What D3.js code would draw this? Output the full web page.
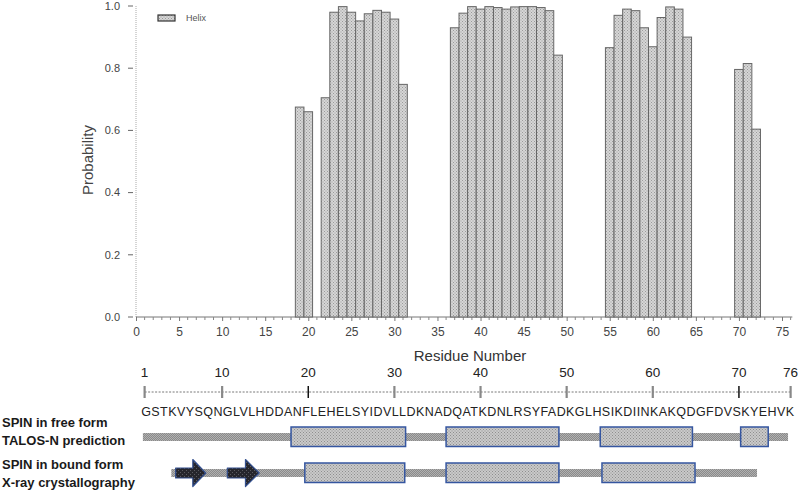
<!DOCTYPE html>
<html>
<head>
<meta charset="utf-8">
<script src="https://cdn.jsdelivr.net/npm/d3@7"></script>
<style>
  html, body { margin: 0; padding: 0; background: #fff; }
  svg { display: block; font-family: "Liberation Sans", Arial, sans-serif; }
</style>
</head>
<body>
<svg id="chart" width="800" height="491"></svg>
<script>
// ---- Data ----
const helixResidues = [19, 20, 22, 23, 24, 25, 26, 27, 28, 29, 30, 31,
  37, 38, 39, 40, 41, 42, 43, 44, 45, 46, 47, 48, 49,
  55, 56, 57, 58, 59, 60, 61, 62, 63, 64,
  70, 71, 72];
const helixProb = [0.675, 0.66, 0.705, 0.98, 0.998, 0.98, 0.952, 0.975, 0.986, 0.98, 0.958, 0.748,
  0.93, 0.977, 0.998, 0.99, 0.998, 0.995, 0.99, 0.997, 0.998, 0.998, 0.995, 0.985, 0.842,
  0.866, 0.97, 0.99, 0.985, 0.93, 0.869, 0.963, 0.997, 0.99, 0.90,
  0.796, 0.815, 0.604];
const xTicks = [0, 5, 10, 15, 20, 25, 30, 35, 40, 45, 50, 55, 60, 65, 70, 75];
const yTicks = [0, 0.2, 0.4, 0.6, 0.8, 1.0];
const sequence = "GSTKVYSQNGLVLHDDANFLEHELSYIDVLLDKNADQATKDNLRSYFADKGLHSIKDIINKAKQDGFDVSKYEHVK";
const rulerTicks = [1, 10, 20, 30, 40, 50, 60, 70, 76];
const rulerDark = [20, 70];
// secondary structure segments, in residue coordinates
const freeRod = [[0.8, 75.7]];
const freeHelices = [[18.0, 31.3], [36.0, 49.1], [53.9, 64.6], [70.2, 73.4]];
const boundRod = [[4.1, 72.1]];
const boundHelices = [[19.6, 31.2], [36.0, 49.1], [54.1, 64.9]];
const boundStrands = [[4.6, 8.1], [10.6, 14.3]];
const rowLabels = [["SPIN in free form", "TALOS-N prediction"], ["SPIN in bound form", "X-ray crystallography"]];

// ---- Setup ----
const svg = d3.select("#chart");
const x = d3.scaleLinear().domain([0, 75]).range([136, 782]);
const y = d3.scaleLinear().domain([0, 1]).range([317, 6]);

const defs = svg.append("defs");
function dotPattern(id, bg, dot, size) {
  const p = defs.append("pattern").attr("id", id).attr("patternUnits", "userSpaceOnUse")
    .attr("width", size).attr("height", size);
  p.append("rect").attr("width", size).attr("height", size).attr("fill", bg);
  p.append("rect").attr("width", 1).attr("height", 1).attr("fill", dot);
  p.append("rect").attr("x", size / 2).attr("y", size / 2).attr("width", 1).attr("height", 1).attr("fill", dot);
}
dotPattern("barFill", "#d6d6d6", "#9a9a9a", 3);
dotPattern("boxFill", "#c9c9c9", "#8e8e8e", 3);
dotPattern("rodFill", "#8a8a8a", "#b0b0b0", 2);
dotPattern("arrowFill", "#26262c", "#5a5a60", 4);

// ---- Y axis ----
svg.append("line").attr("x1", x(0)).attr("x2", x(0)).attr("y1", y(1)).attr("y2", y(0))
  .attr("stroke", "#aaa").attr("stroke-dasharray", "1,1");
const yt = svg.append("g");
yt.selectAll("line").data(yTicks).join("line")
  .attr("x1", 128).attr("x2", 133).attr("y1", d => y(d)).attr("y2", d => y(d))
  .attr("stroke", "#666");
yt.selectAll("text").data(yTicks).join("text")
  .attr("x", 120).attr("y", d => y(d)).attr("dy", "0.35em")
  .attr("text-anchor", "end").attr("font-size", 11).attr("fill", "#444")
  .text(d => d3.format(".1f")(d));
svg.append("text").attr("transform", "translate(87,160) rotate(-90)")
  .attr("text-anchor", "middle").attr("dominant-baseline", "central")
  .attr("font-size", 15).attr("fill", "#444").text("Probability");

// ---- X axis ----
const xAxis = d3.axisBottom(x).tickValues(xTicks).tickSize(4).tickPadding(6).tickFormat(d3.format("d"));
const gx = svg.append("g").attr("transform", `translate(0,${y(0)})`).call(xAxis);
gx.select(".domain").attr("stroke", "#777").attr("d", `M${x(0)},0H${x(76.2)}`);
gx.selectAll(".tick line").attr("stroke", "#777");
gx.selectAll(".tick text").attr("font-size", 12).attr("fill", "#444")
  .attr("font-family", "Liberation Sans, Arial, sans-serif");
const minor = d3.range(0, 77).filter(d => d % 5 !== 0);
svg.append("g").selectAll("line").data(minor).join("line")
  .attr("x1", d => x(d)).attr("x2", d => x(d)).attr("y1", y(0)).attr("y2", y(0) + 3)
  .attr("stroke", "#888");
svg.append("text").attr("x", 470).attr("y", 361).attr("text-anchor", "middle")
  .attr("font-size", 15).attr("fill", "#333").text("Residue Number");

// ---- Bars ----
svg.append("g").selectAll("rect").data(helixResidues).join("rect")
  .attr("x", d => x(d - 0.5)).attr("width", d => x(d + 0.5) - x(d - 0.5))
  .attr("y", (d, i) => y(helixProb[i])).attr("height", (d, i) => y(0) - y(helixProb[i]))
  .attr("fill", "url(#barFill)").attr("stroke", "#666").attr("stroke-width", 1);

// ---- Legend ----
svg.append("rect").attr("x", 158).attr("y", 15).attr("width", 17).attr("height", 6)
  .attr("fill", "url(#barFill)").attr("stroke", "#333").attr("stroke-width", 1.2);
svg.append("text").attr("x", 186).attr("y", 21).attr("font-size", 9).attr("fill", "#555").text("Helix");

// ---- Ruler ----
const rulerY = 392;
const ruler = svg.append("g");
ruler.append("line").attr("x1", x(1)).attr("x2", x(76)).attr("y1", rulerY).attr("y2", rulerY)
  .attr("stroke", "#555").attr("stroke-width", 0.8).attr("stroke-dasharray", "2,1.5");
ruler.selectAll("line.t").data(rulerTicks).join("line").attr("class", "t")
  .attr("x1", d => x(d)).attr("x2", d => x(d)).attr("y1", 386).attr("y2", 398)
  .attr("stroke", d => rulerDark.includes(d) ? "#111" : "#888")
  .attr("stroke-width", d => rulerDark.includes(d) ? 1.5 : 2.2);
ruler.selectAll("text").data(rulerTicks).join("text")
  .attr("x", d => x(d)).attr("y", 377).attr("text-anchor", "middle")
  .attr("font-size", 13.5).attr("fill", "#222").text(d => d);

// ---- Sequence (one proportional string spanning residues 1..76) ----
const seqX0 = x(0.6), seqX1 = x(76.4);
svg.append("text").attr("x", seqX0).attr("y", 416)
  .attr("textLength", seqX1 - seqX0).attr("lengthAdjust", "spacing")
  .attr("font-size", 12.5).attr("fill", "#222").text(sequence);

// ---- Row labels ----
const labelYs = [[427, 445], [469, 487]];
rowLabels.forEach((pair, r) => pair.forEach((t, k) => {
  svg.append("text").attr("x", 2).attr("y", labelYs[r][k])
    .attr("font-size", 13).attr("font-weight", "bold").attr("fill", "#1a1a1a").text(t);
}));

// ---- Secondary structure tracks ----
function drawTrack(cy, rods, helices, strands) {
  const g = svg.append("g");
  g.selectAll("rect.rod").data(rods).join("rect").attr("class", "rod")
    .attr("x", d => x(d[0])).attr("width", d => x(d[1]) - x(d[0]))
    .attr("y", cy - 4).attr("height", 8).attr("fill", "url(#rodFill)");
  g.selectAll("rect.hx").data(helices).join("rect").attr("class", "hx")
    .attr("x", d => x(d[0])).attr("width", d => x(d[1]) - x(d[0]))
    .attr("y", cy - 10).attr("height", 19.5)
    .attr("fill", "url(#boxFill)").attr("stroke", "#3556a0").attr("stroke-width", 1.5);
  g.selectAll("path.st").data(strands).join("path").attr("class", "st")
    .attr("d", d => {
      const x0 = x(d[0]), x1 = x(d[1]);
      const hx = x1 - (x1 - x0) * 0.43;
      return `M${x0},${cy - 5}H${hx}V${cy - 13.5}L${x1},${cy}L${hx},${cy + 13.5}V${cy + 5}H${x0}Z`;
    })
    .attr("fill", "url(#arrowFill)").attr("stroke", "#34508f").attr("stroke-width", 1.2)
    .attr("stroke-linejoin", "round");
}
drawTrack(437, freeRod, freeHelices, []);
drawTrack(473, boundRod, boundHelices, boundStrands);
</script>
</body>
</html>
